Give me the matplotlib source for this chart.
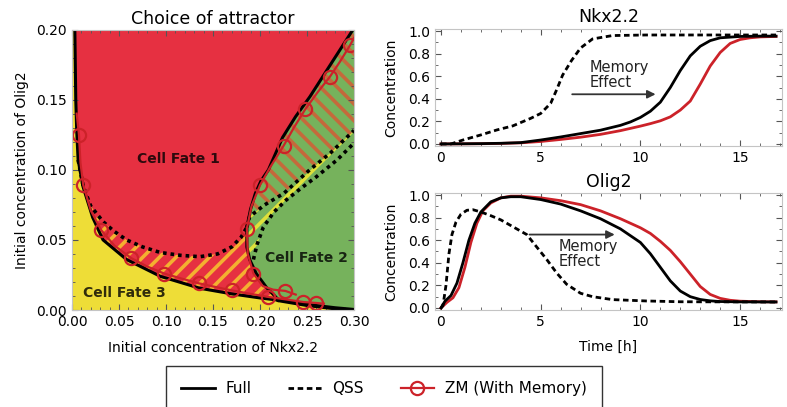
import numpy as np
import matplotlib
matplotlib.use("Agg")
import matplotlib.pyplot as plt
from matplotlib.lines import Line2D
from matplotlib.ticker import MultipleLocator

# ---- left panel: basin boundaries (Nkx2.2, Olig2) ----
# Full model, red/yellow boundary (top of left edge -> bottom)
full_ry_x = [0.003, 0.004, 0.005, 0.0065, 0.0117, 0.022, 0.033, 0.058, 0.094, 0.136, 0.170, 0.200, 0.220]
full_ry_y = [0.200, 0.150, 0.128, 0.107, 0.088, 0.066, 0.050, 0.036, 0.024, 0.0155, 0.0115, 0.0086, 0.007]
# Full model, red/green boundary (bottom -> top right)
full_rg_x = [0.220, 0.207, 0.196, 0.189, 0.186, 0.186, 0.190, 0.195, 0.201, 0.209, 0.224, 0.238, 0.253, 0.275, 0.299]
full_rg_y = [0.007, 0.016, 0.026, 0.036, 0.045, 0.059, 0.072, 0.083, 0.092, 0.100, 0.123, 0.138, 0.152, 0.175, 0.200]
# Full model, green/yellow boundary
full_gy_x = [0.220, 0.250, 0.280, 0.300]
full_gy_y = [0.007, 0.0036, 0.0012, 0.0]

# QSS boundaries (dotted)
qss_ry_x = [0.0065, 0.0085, 0.012, 0.020, 0.033, 0.045, 0.058, 0.075, 0.094, 0.115, 0.136, 0.155, 0.170, 0.180, 0.186]
qss_ry_y = [0.107, 0.100, 0.088, 0.074, 0.063, 0.056, 0.050, 0.045, 0.041, 0.039, 0.038, 0.040, 0.045, 0.052, 0.059]
qss_rg_x = [0.186, 0.189, 0.205, 0.225, 0.253, 0.275, 0.300]
qss_rg_y = [0.059, 0.0666, 0.075, 0.083, 0.100, 0.112, 0.128]
qss_yg_x = [0.193, 0.197, 0.2035, 0.215, 0.228, 0.244, 0.260, 0.282, 0.300]
qss_yg_y = [0.036, 0.047, 0.059, 0.070, 0.0785, 0.087, 0.095, 0.107, 0.119]

# ZM (with memory) boundaries, circles where marked
zm_a_x = [0.005, 0.0074, 0.009, 0.012, 0.020, 0.031, 0.045, 0.063, 0.080, 0.098, 0.116, 0.135,
          0.152, 0.170, 0.190, 0.209, 0.228, 0.246, 0.260, 0.268]
zm_a_y = [0.140, 0.125, 0.105, 0.089, 0.071, 0.057, 0.046, 0.037, 0.031, 0.026, 0.0225, 0.019,
          0.0165, 0.014, 0.0115, 0.0093, 0.0075, 0.0057, 0.005, 0.0045]
zm_a_marks = [1, 3, 5, 7, 9, 11, 13, 15, 17, 18]
zm_b_x = [0.300, 0.296, 0.285, 0.274, 0.261, 0.248, 0.236, 0.225, 0.211, 0.200, 0.191, 0.186,
          0.187, 0.193, 0.203, 0.214, 0.227, 0.238]
zm_b_y = [0.194, 0.189, 0.177, 0.166, 0.155, 0.143, 0.130, 0.117, 0.102, 0.089, 0.074, 0.058,
          0.040, 0.026, 0.017, 0.0145, 0.0136, 0.011]
zm_b_marks = [1, 3, 5, 7, 9, 11, 13, 16]

# ---- right panels: time courses ----
nkx_full_t = [0, 2, 3, 4, 5, 6, 7, 8, 9, 9.5, 10, 10.5, 11, 11.5, 12, 12.5, 13, 13.5, 14, 15, 16, 16.8]
nkx_full_v = [0, 0.003, 0.006, 0.012, 0.035, 0.062, 0.092, 0.122, 0.165, 0.195, 0.235, 0.29,
              0.37, 0.50, 0.65, 0.78, 0.865, 0.915, 0.94, 0.952, 0.955, 0.955]
nkx_qss_t = [0, 0.5, 1.1, 2.0, 2.8, 3.6, 4.5, 5.0, 5.5, 5.8, 6.1, 6.55, 7.0, 7.6, 8.6, 10.3, 13, 16.8]
nkx_qss_v = [0, 0.0, 0.035, 0.08, 0.124, 0.16, 0.227, 0.27, 0.36, 0.48, 0.61, 0.74, 0.85, 0.93,
             0.96, 0.965, 0.965, 0.965]
nkx_zm_t = [0, 2, 3, 4, 5, 6, 7, 8, 9, 10, 10.5, 11, 11.5, 12, 12.5, 13, 13.5, 14, 14.5, 15, 15.5, 16, 16.8]
nkx_zm_v = [0, 0.002, 0.005, 0.01, 0.022, 0.04, 0.06, 0.085, 0.118, 0.158, 0.18, 0.205, 0.24,
            0.30, 0.38, 0.53, 0.69, 0.81, 0.89, 0.925, 0.94, 0.948, 0.952]

olig_full_t = [0, 0.2, 0.5, 0.8, 1.1, 1.4, 1.7, 2.0, 2.5, 3.0, 3.5, 4.0, 5, 6, 7, 8, 9, 10,
               10.5, 11, 11.5, 12, 12.5, 13, 13.5, 14, 15, 16.8]
olig_full_v = [0, 0.06, 0.11, 0.22, 0.40, 0.60, 0.75, 0.85, 0.94, 0.975, 0.985, 0.985, 0.96,
               0.92, 0.86, 0.79, 0.70, 0.58, 0.48, 0.36, 0.24, 0.15, 0.10, 0.075, 0.063,
               0.057, 0.054, 0.053]
olig_qss_t = [0, 0.1, 0.25, 0.4, 0.55, 0.75, 1.0, 1.3, 1.6, 2.0, 2.46, 3.0, 3.6, 4.3, 4.8, 5.3,
              5.8, 6.3, 7.0, 7.6, 8.6, 10.3, 12, 16.8]
olig_qss_v = [0, 0.02, 0.2, 0.48, 0.65, 0.76, 0.83, 0.865, 0.87, 0.85, 0.82, 0.78, 0.72, 0.65,
              0.54, 0.43, 0.31, 0.21, 0.13, 0.10, 0.074, 0.062, 0.055, 0.053]
olig_zm_t = [0, 0.3, 0.6, 0.9, 1.2, 1.5, 1.8, 2.1, 2.5, 3.0, 3.5, 4.0, 5, 6, 7, 8, 9, 10, 10.5,
             11, 11.5, 12, 12.5, 13, 13.5, 14, 14.5, 15, 16, 16.8]
olig_zm_v = [0, 0.05, 0.09, 0.18, 0.36, 0.58, 0.75, 0.86, 0.93, 0.975, 0.99, 0.99, 0.975,
             0.95, 0.915, 0.86, 0.79, 0.71, 0.66, 0.59, 0.51, 0.41, 0.30, 0.19, 0.12, 0.085,
             0.068, 0.06, 0.055, 0.054]

RED_BG = "#e63041"
GREEN_BG = "#76b25c"
YELLOW_BG = "#eedd37"
ZM_RED = "#cc2229"
SPINE = "#c4c4c4"

plt.rcParams["hatch.linewidth"] = 2.6

fig = plt.figure(figsize=(7.87, 4.07), dpi=100)

# ================= left panel =================
ax = fig.add_axes([72 / 787, 1 - 310 / 407, 282 / 787, 280.5 / 407])
ax.set_facecolor(YELLOW_BG)

fx_ry, fy_ry = np.array(full_ry_x), np.array(full_ry_y)
fx_rg, fy_rg = np.array(full_rg_x), np.array(full_rg_y)
fx_gy, fy_gy = np.array(full_gy_x), np.array(full_gy_y)

# red basin (Full)
ax.fill(np.r_[fx_ry, fx_rg[1:], fx_ry[0]], np.r_[fy_ry, fy_rg[1:], fy_rg[-1] + 0.01],
        color=RED_BG, lw=0)
# green basin (Full)
ax.fill(np.r_[fx_rg, 0.31, 0.31, fx_gy[::-1]], np.r_[fy_rg, 0.21, 0.0, fy_gy[::-1]],
        color=GREEN_BG, lw=0)

# QSS disagreement, hatched
qx_ry, qy_ry = np.array(qss_ry_x), np.array(qss_ry_y)
qx_rg, qy_rg = np.array(qss_rg_x), np.array(qss_rg_y)
qx_yg, qy_yg = np.array(qss_yg_x), np.array(qss_yg_y)
ax.fill(np.r_[qx_ry, fx_rg[5::-1], fx_ry[:2:-1]], np.r_[qy_ry, fy_rg[5::-1], fy_ry[:2:-1]],
        facecolor="none", edgecolor="#f4b030", hatch="//", lw=0)
ax.fill(np.r_[qx_rg, qx_yg[::-1], fx_rg[3:6]], np.r_[qy_rg, qy_yg[::-1], fy_rg[3:6]],
        facecolor="none", edgecolor="#dfe03a", hatch="//", lw=0)
ax.fill(np.r_[fx_rg[5:], 0.31, qx_rg[::-1]], np.r_[fy_rg[5:], 0.21, qy_rg[::-1]],
        facecolor="none", edgecolor="#c4693b", hatch="\\\\", lw=0)

# boundaries
ax.plot(fx_ry, fy_ry, color="k", lw=2.2)
ax.plot(fx_rg, fy_rg, color="k", lw=2.2)
ax.plot(fx_gy, fy_gy, color="k", lw=3.0)
for xs, ys in [(qx_ry, qy_ry), (qx_rg, qy_rg), (qx_yg, qy_yg)]:
    ax.plot(xs, ys, color="k", lw=2.6, ls=(0, (1, 1.1)))
ax.plot(zm_a_x, zm_a_y, color=ZM_RED, lw=1.6, marker="o", mfc="none", mec=ZM_RED,
        ms=9.5, mew=1.6, markevery=zm_a_marks)
ax.plot(zm_b_x, zm_b_y, color=ZM_RED, lw=1.6, marker="o", mfc="none", mec=ZM_RED,
        ms=9.5, mew=1.6, markevery=zm_b_marks)

ax.text(0.113, 0.108, "Cell Fate 1", ha="center", va="center", fontsize=10,
        fontweight="bold", color="k", alpha=0.8)
ax.text(0.249, 0.037, "Cell Fate 2", ha="center", va="center", fontsize=10,
        fontweight="bold", color="k", alpha=0.8)
ax.text(0.056, 0.012, "Cell Fate 3", ha="center", va="center", fontsize=10,
        fontweight="bold", color="k", alpha=0.8)

ax.set_xlim(0, 0.30)
ax.set_ylim(0, 0.20)
ax.set_xticks(np.arange(0, 0.301, 0.05))
ax.set_yticks(np.arange(0, 0.201, 0.05))
ax.xaxis.set_minor_locator(MultipleLocator(0.01))
ax.yaxis.set_minor_locator(MultipleLocator(0.01))
ax.set_xticklabels(["%.2f" % v for v in np.arange(0, 0.301, 0.05)])
ax.set_yticklabels(["%.2f" % v for v in np.arange(0, 0.201, 0.05)])
ax.set_title("Choice of attractor", fontsize=12.5, pad=4)
ax.set_xlabel("Initial concentration of Nkx2.2", fontsize=10, labelpad=9)
ax.set_ylabel("Initial concentration of Olig2", fontsize=10, labelpad=5)

# ================= right panels =================
ax1 = fig.add_axes([435 / 787, 1 - 146 / 407, 347 / 787, 117 / 407])
ax2 = fig.add_axes([435 / 787, 1 - 310 / 407, 347 / 787, 117 / 407])

for a, (ft, fv, qt, qv, zt, zv) in zip(
        [ax1, ax2],
        [(nkx_full_t, nkx_full_v, nkx_qss_t, nkx_qss_v, nkx_zm_t, nkx_zm_v),
         (olig_full_t, olig_full_v, olig_qss_t, olig_qss_v, olig_zm_t, olig_zm_v)]):
    a.plot(zt, zv, color=ZM_RED, lw=2)
    a.plot(ft, fv, color="k", lw=2)
    a.plot(qt, qv, color="k", lw=2, ls=(0, (2, 1.3)))
    a.set_xlim(-0.3, 17.1)
    a.set_ylim(-0.018, 1.018)
    a.set_xticks([0, 5, 10, 15])
    a.set_yticks(np.arange(0, 1.01, 0.2))
    a.set_yticklabels(["%.1f" % v for v in np.arange(0, 1.01, 0.2)])
    a.xaxis.set_minor_locator(MultipleLocator(1))
    a.yaxis.set_minor_locator(MultipleLocator(0.1))
    a.set_ylabel("Concentration", fontsize=10, labelpad=7)

ax1.set_title("Nkx2.2", fontsize=12.5, pad=5)
ax2.set_title("Olig2", fontsize=12.5, pad=4)
ax2.set_xlabel("Time [h]", fontsize=10, labelpad=8)

arrow = dict(arrowstyle="-|>", color="#333333", lw=1.3, mutation_scale=12)
ax1.annotate("", xy=(10.9, 0.44), xytext=(6.44, 0.44), arrowprops=arrow)
ax1.text(7.44, 0.61, "Memory\nEffect", ha="left", va="center", fontsize=10.5,
         color="#222222", linespacing=1.0)
ax2.annotate("", xy=(8.85, 0.65), xytext=(4.3, 0.65), arrowprops=arrow)
ax2.text(5.9, 0.475, "Memory\nEffect", ha="left", va="center", fontsize=10.5,
         color="#222222", linespacing=1.0)

for a in [ax, ax1, ax2]:
    for s in a.spines.values():
        s.set_color(SPINE)
    a.tick_params(which="both", direction="in", top=True, right=True,
                  color="#555555", labelsize=10)
    a.tick_params(which="major", length=4)
    a.tick_params(which="minor", length=2)

# ================= legend =================
handles = [Line2D([], [], color="k", lw=2),
           Line2D([], [], color="k", lw=2, ls=(0, (2, 1.3))),
           Line2D([], [], color=ZM_RED, lw=1.6, marker="o", mfc="none", mec=ZM_RED,
                  ms=9.5, mew=1.6)]
leg = fig.legend(handles, ["Full", "QSS", "ZM (With Memory)"], ncol=3,
                 loc="upper center", bbox_to_anchor=(384 / 787, 1 - 366 / 407),
                 frameon=True, fancybox=False, edgecolor="k", fontsize=11,
                 borderpad=1.0, columnspacing=2.4, handlelength=2.2,
                 handletextpad=0.7, borderaxespad=0)
leg.get_frame().set_linewidth(1.0)

fig.savefig("out.png", dpi=100)
